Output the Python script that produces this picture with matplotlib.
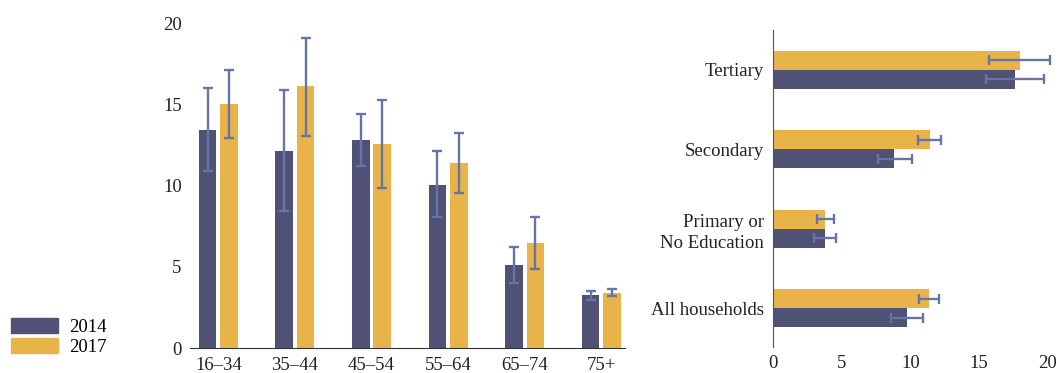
import numpy as np
import matplotlib
matplotlib.use('Agg')
import matplotlib.pyplot as plt
from matplotlib.patches import Patch

plt.rcParams['font.family'] = ['Liberation Serif', 'DejaVu Serif']
plt.rcParams['font.size'] = 13.5

DARK = '#4f5175'
GOLD = '#e8b44a'
ERR = '#6675a6'

# age groups (left panel)
ages = ['16–34', '35–44', '45–54', '55–64', '65–74', '75+']
age_2014 = [13.4, 12.1, 12.8, 10.05, 5.1, 3.25]
age_2014_lo = [10.9, 8.45, 11.2, 8.05, 4.0, 3.0]
age_2014_hi = [16.0, 15.85, 14.4, 12.1, 6.25, 3.5]
age_2017 = [15.0, 16.1, 12.55, 11.4, 6.45, 3.4]
age_2017_lo = [12.9, 13.05, 9.85, 9.55, 4.85, 3.2]
age_2017_hi = [17.1, 19.1, 15.25, 13.25, 8.05, 3.65]

# education (right panel), bottom to top
edu = ['All households', 'Primary or\nNo Education', 'Secondary', 'Tertiary']
edu_2014 = [9.75, 3.75, 8.8, 17.6]
edu_2014_lo = [8.55, 2.95, 7.6, 15.5]
edu_2014_hi = [10.9, 4.6, 10.1, 19.7]
edu_2017 = [11.35, 3.8, 11.4, 18.0]
edu_2017_lo = [10.65, 3.2, 10.55, 15.7]
edu_2017_hi = [12.1, 4.45, 12.2, 20.2]


def err(vals, lo, hi):
    v = np.array(vals)
    return [v - np.array(lo), np.array(hi) - v]


fig = plt.figure(figsize=(10.58, 3.73), dpi=100)

# ---- left: by age ----
ax = fig.add_axes([190 / 1058, 24.7 / 373, 435 / 1058, 325.3 / 373])
x = np.arange(len(ages))
w = 0.23
off = 0.14
ekw = dict(fmt='none', ecolor=ERR, elinewidth=1.7, capsize=3.6, capthick=1.7, zorder=3)
ax.bar(x - off, age_2014, w, color=DARK, zorder=2)
ax.bar(x + off, age_2017, w, color=GOLD, zorder=2)
ax.errorbar(x - off, age_2014, yerr=err(age_2014, age_2014_lo, age_2014_hi), **ekw)
ax.errorbar(x + off, age_2017, yerr=err(age_2017, age_2017_lo, age_2017_hi), **ekw)
ax.set_xlim(-0.37, 5.31)
ax.set_ylim(0, 20)
ax.set_yticks([0, 5, 10, 15, 20])
ax.set_xticks(x)
ax.set_xticklabels(ages)
for s in ['top', 'right', 'left']:
    ax.spines[s].set_visible(False)
ax.spines['bottom'].set_color('#333333')
ax.tick_params(axis='both', length=0, colors='#222222')
ax.tick_params(axis='y', pad=6)
ax.tick_params(axis='x', pad=6)

# ---- right: by education ----
ax2 = fig.add_axes([773.3 / 1058, 26 / 373, 274.4 / 1058, 317 / 373])
y = np.arange(len(edu))
h = 0.24
ax2.barh(y - h / 2, edu_2014, h, color=DARK, zorder=2)
ax2.barh(y + h / 2, edu_2017, h, color=GOLD, zorder=2)
ekw2 = dict(ekw, clip_on=False)
ax2.errorbar(edu_2014, y - h / 2, xerr=err(edu_2014, edu_2014_lo, edu_2014_hi), **ekw2)
ax2.errorbar(edu_2017, y + h / 2, xerr=err(edu_2017, edu_2017_lo, edu_2017_hi), **ekw2)
ax2.set_xlim(0, 20)
ax2.set_ylim(-0.49, 3.5)
ax2.set_xticks([0, 5, 10, 15, 20])
ax2.set_yticks(y)
ax2.set_yticklabels(edu, linespacing=1.35)
for s in ['top', 'right', 'bottom']:
    ax2.spines[s].set_visible(False)
ax2.spines['left'].set_color('#555555')
ax2.tick_params(axis='both', length=0, colors='#222222')
ax2.tick_params(axis='y', pad=7)
ax2.tick_params(axis='x', pad=6)

fig.legend(handles=[Patch(color=DARK, label='2014'), Patch(color=GOLD, label='2017')],
           loc='lower left', bbox_to_anchor=(11 / 1058, 17 / 373), frameon=False,
           borderpad=0, borderaxespad=0,
           handlelength=2.5, handleheight=0.9, handletextpad=0.6, labelspacing=0.1)

fig.savefig('out.png', dpi=100)
